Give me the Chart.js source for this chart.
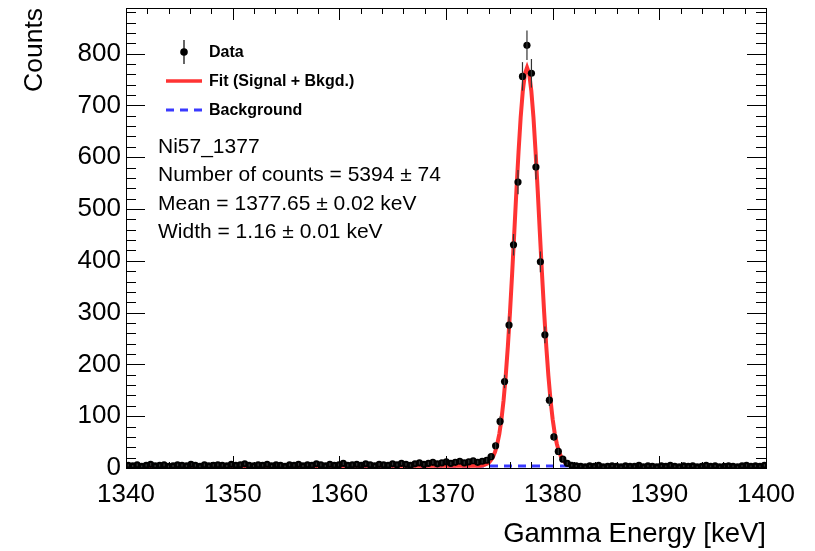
<!DOCTYPE html>
<html>
<head>
<meta charset="utf-8">
<script src="https://cdn.jsdelivr.net/npm/chart.js@4.4.1/dist/chart.umd.min.js"></script>
<style>
  body { margin: 0; background: #fff; }
  #wrap { width: 815px; height: 551px; }
</style>
</head>
<body>
<div id="wrap"><canvas id="peakChart" width="815" height="551"></canvas></div>
<script>
const FONT = '"Liberation Sans", Arial, Helvetica, sans-serif';

// histogram binning (bin centres)
const firstBin = 1340.21;
const binWidth = 0.42;

// counts per bin
const counts = [
  5, 4, 6, 3, 5, 7, 4, 5, 6, 3, 4, 6, 5, 4, 7, 5, 3, 6, 4, 5,
  6, 5, 4, 7, 5, 6, 8, 5, 4, 6, 5, 7, 4, 6, 5, 3, 6, 5, 7, 4,
  6, 5, 8, 6, 4, 7, 5, 6, 9, 5, 6, 7, 5, 8, 6, 4, 7, 6, 5, 8,
  6, 9, 7, 5, 8, 10, 7, 9, 11, 8, 10, 12, 9, 11, 13, 10, 12, 14, 11, 13,
  15, 22, 43, 90, 167, 276, 431, 552, 756, 816, 762, 581, 398, 257, 131, 60, 32, 17, 9, 5,
  4, 3, 2, 4, 3, 5, 2, 3, 4, 3, 2, 4, 3, 3, 5, 2, 4, 3, 2, 4,
  3, 5, 3, 2, 4, 3, 4, 2, 3, 5, 3, 4, 2, 3, 4, 3, 2, 4, 5, 3,
  4, 3, 5
];

// fitted curve (signal + background)
const fitX = [1340,
  1373.2, 1373.4, 1373.6, 1373.8, 1374.0, 1374.2, 1374.4, 1374.6, 1374.8, 1375.0,
  1375.2, 1375.4, 1375.6, 1375.8, 1376.0, 1376.2, 1376.4, 1376.6, 1376.8, 1377.0,
  1377.2, 1377.4, 1377.6, 1377.8, 1378.0, 1378.2, 1378.4, 1378.6, 1378.8, 1379.0,
  1379.2, 1379.4, 1379.6, 1379.8, 1380.0, 1380.2, 1380.4, 1380.6, 1380.8, 1381.0,
  1381.2, 1381.4, 1381.6, 1381.8, 1382.0,
  1400];
const fitY = [4,
  4.5, 5, 6, 8, 10, 15, 21, 31, 46, 66,
  94, 131, 178, 235, 301, 375, 454, 535, 610, 677,
  728, 761, 773, 761, 728, 677, 610, 535, 454, 375,
  301, 235, 178, 131, 94, 66, 46, 31, 21, 15,
  10, 8, 6, 5, 4.5,
  4];

const bkgX = [1340, 1400];
const bkgY = [4, 4];

const xTicks = [1340, 1350, 1360, 1370, 1380, 1390, 1400];
const yTicks = [0, 100, 200, 300, 400, 500, 600, 700, 800];

const infoLines = [
  'Ni57_1377',
  'Number of counts = 5394 \u00b1 74',
  'Mean = 1377.65 \u00b1 0.02 keV',
  'Width = 1.16 \u00b1 0.01 keV'
];

const dataPts = counts.map((c, i) => ({ x: +(firstBin + i * binWidth).toFixed(2), y: c }));
const fitPts = fitX.map((x, i) => ({ x: x, y: fitY[i] }));
const bkgPts = bkgX.map((x, i) => ({ x: x, y: bkgY[i] }));

// ROOT style frame, inward ticks, error bars, legend and text
const rootStyle = {
  id: 'rootStyle',
  afterDatasetsDraw(chart) {
    const { ctx, chartArea: a, scales: { x, y } } = chart;
    ctx.save();
    // error bars
    ctx.strokeStyle = '#333';
    ctx.lineWidth = 1.2;
    dataPts.forEach(p => {
      const e = Math.sqrt(p.y);
      const px = x.getPixelForValue(p.x);
      ctx.beginPath();
      ctx.moveTo(px, y.getPixelForValue(p.y + e));
      ctx.lineTo(px, y.getPixelForValue(Math.max(p.y - e, 0)));
      ctx.stroke();
    });

    // frame
    ctx.strokeStyle = '#000';
    ctx.lineWidth = 1;
    ctx.strokeRect(a.left + 0.5, a.top + 0.5, a.right - a.left, a.bottom - a.top);

    ctx.beginPath();
    for (let v = 1340; v <= 1400; v += 2) {
      const px = Math.round(x.getPixelForValue(v)) + 0.5;
      const len = v % 10 === 0 ? 12 : 6;
      ctx.moveTo(px, a.bottom); ctx.lineTo(px, a.bottom - len);
      ctx.moveTo(px, a.top); ctx.lineTo(px, a.top + len);
    }
    for (let v = 0; v <= 880; v += 20) {
      const py = Math.round(y.getPixelForValue(v)) + 0.5;
      const len = v % 100 === 0 ? 19 : 10;
      ctx.moveTo(a.left, py); ctx.lineTo(a.left + len, py);
      ctx.moveTo(a.right, py); ctx.lineTo(a.right - len, py);
    }
    ctx.stroke();
    ctx.restore();
  },
  afterDraw(chart) {
    const { ctx, chartArea: a } = chart;
    ctx.save();
    ctx.fillStyle = '#000';

    // axis titles
    ctx.textBaseline = 'middle';
    ctx.textAlign = 'right';
    ctx.font = '27.5px ' + FONT;
    ctx.fillText('Gamma Energy [keV]', a.right, 534);
    ctx.font = '26.5px ' + FONT;
    ctx.save();
    ctx.translate(35, a.top);
    ctx.rotate(-Math.PI / 2);
    ctx.fillText('Counts', 0, 0);
    ctx.restore();

    // legend
    ctx.strokeStyle = '#000';
    ctx.lineWidth = 1.2;
    ctx.beginPath();
    ctx.moveTo(184, 40); ctx.lineTo(184, 64);
    ctx.stroke();
    ctx.beginPath();
    ctx.arc(184, 52, 3.8, 0, Math.PI * 2);
    ctx.fill();

    ctx.strokeStyle = '#ff3333';
    ctx.lineWidth = 3.5;
    ctx.beginPath();
    ctx.moveTo(166, 81); ctx.lineTo(202, 81);
    ctx.stroke();

    ctx.strokeStyle = '#3a3aff';
    ctx.lineWidth = 3;
    ctx.setLineDash([8, 6]);
    ctx.beginPath();
    ctx.moveTo(166, 110); ctx.lineTo(204, 110);
    ctx.stroke();
    ctx.setLineDash([]);

    ctx.textAlign = 'left';
    ctx.font = 'bold 16px ' + FONT;
    ctx.fillText('Data', 209, 53);
    ctx.fillText('Fit (Signal + Bkgd.)', 209, 82);
    ctx.fillText('Background', 209, 111);

    ctx.font = '21px ' + FONT;
    infoLines.forEach((t, i) => ctx.fillText(t, 158, 147 + i * 28.5));
    ctx.restore();
  }
};

new Chart(document.getElementById('peakChart'), {
  type: 'scatter',
  data: {
    datasets: [
      {
        label: 'Data',
        data: dataPts,
        pointRadius: 3.6,
        pointHoverRadius: 3.6,
        backgroundColor: '#000',
        borderColor: '#000',
        borderWidth: 0
      },
      {
        label: 'Fit (Signal + Bkgd.)',
        data: fitPts,
        showLine: true,
        borderColor: '#ff3333',
        borderWidth: 4,
        pointRadius: 0,
        fill: false
      },
      {
        label: 'Background',
        data: bkgPts,
        showLine: true,
        borderColor: '#3a3aff',
        borderWidth: 3,
        borderDash: [8, 6],
        pointRadius: 0,
        fill: false
      }
    ]
  },
  options: {
    responsive: false,
    animation: false,
    layout: { padding: { top: 8, right: 49, left: 0, bottom: 0 } },
    plugins: { legend: { display: false }, tooltip: { enabled: false } },
    scales: {
      x: {
        type: 'linear',
        min: 1340,
        max: 1400,
        afterFit(s) { s.height = 83; s.paddingLeft = 0; s.paddingRight = 0; },
        afterBuildTicks(s) { s.ticks = xTicks.map(v => ({ value: v })); },
        grid: { display: false, drawTicks: false },
        border: { display: false },
        ticks: {
          color: '#000', font: { size: 26, family: FONT }, padding: 11,
          maxRotation: 0, autoSkip: false, callback: v => String(v)
        }
      },
      y: {
        min: 0,
        max: 888,
        afterFit(s) { s.width = 126; s.paddingTop = 0; s.paddingBottom = 0; },
        afterBuildTicks(s) { s.ticks = yTicks.map(v => ({ value: v })); },
        grid: { display: false, drawTicks: false },
        border: { display: false },
        ticks: {
          color: '#000', font: { size: 26, family: FONT }, padding: 5,
          autoSkip: false, callback: v => String(v)
        }
      }
    }
  },
  plugins: [rootStyle]
});
</script>
</body>
</html>
